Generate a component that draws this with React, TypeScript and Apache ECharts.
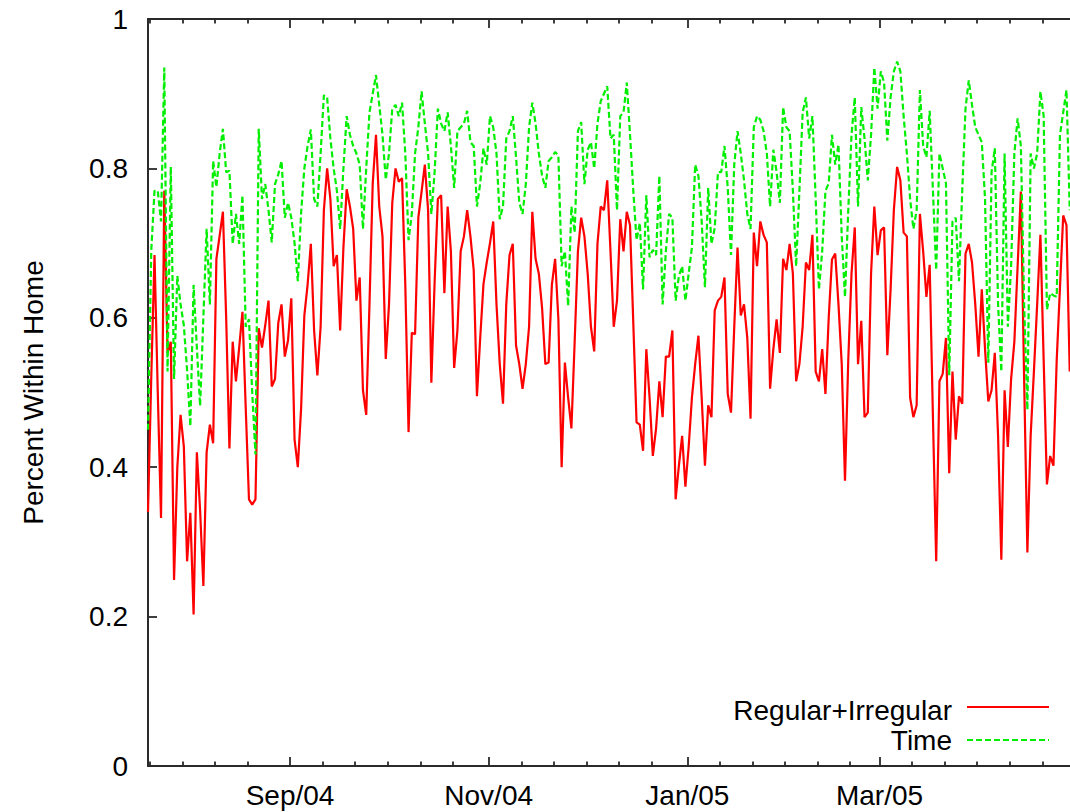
import React, { useEffect, useRef } from "react";
import * as echarts from "echarts";

// x values are days counted from 1 Sep 2004; one sample per day
const FIRST_SAMPLE_DAY = -43.6;
const X_MIN = -43.6;
const X_MAX = 242.4;

const MAJOR_TICK_DAYS = [0, 61, 122, 181];
const MAJOR_TICK_LABELS = ["Sep/04", "Nov/04", "Jan/05", "Mar/05"];
const MINOR_TICK_DAYS = [
  -43, -33, -23, -13, 10, 20, 30, 40, 50, 71, 81, 91, 101, 111, 132, 142, 152,
  162, 172, 191, 201, 211, 221, 231,
];

const Y_MIN = 0;
const Y_MAX = 1;
const Y_STEP = 0.2;

const SERIES_NAMES = ["Regular+Irregular", "Time"];

const REGULAR_IRREGULAR = [
  0.34, 0.52, 0.684, 0.5, 0.332, 0.77, 0.553, 0.568, 0.249, 0.4,
  0.47, 0.428, 0.274, 0.339, 0.203, 0.42, 0.342, 0.241, 0.42, 0.457,
  0.432, 0.679, 0.71, 0.742, 0.6, 0.425, 0.568, 0.515, 0.56, 0.608,
  0.48, 0.357, 0.35, 0.357, 0.586, 0.56, 0.59, 0.623, 0.508, 0.518,
  0.593, 0.618, 0.548, 0.57, 0.626, 0.437, 0.4, 0.478, 0.603, 0.644,
  0.699, 0.583, 0.523, 0.588, 0.744, 0.8, 0.759, 0.669, 0.684, 0.583,
  0.694, 0.772, 0.749, 0.719, 0.623, 0.654, 0.503, 0.47, 0.618, 0.78,
  0.845, 0.749, 0.709, 0.545, 0.618, 0.754, 0.8, 0.782, 0.787, 0.644,
  0.447, 0.58, 0.578, 0.734, 0.769, 0.805, 0.744, 0.513, 0.648, 0.759,
  0.764, 0.633, 0.749, 0.689, 0.533, 0.583, 0.689, 0.709, 0.744, 0.709,
  0.664, 0.495, 0.573, 0.645, 0.674, 0.7, 0.729, 0.618, 0.538, 0.485,
  0.618, 0.684, 0.699, 0.563, 0.538, 0.505, 0.538, 0.588, 0.742, 0.679,
  0.659, 0.613, 0.538, 0.54, 0.644, 0.679, 0.598, 0.4, 0.54, 0.493,
  0.452, 0.568, 0.689, 0.734, 0.709, 0.659, 0.588, 0.555, 0.699, 0.749,
  0.744, 0.784, 0.689, 0.588, 0.623, 0.732, 0.689, 0.742, 0.724, 0.593,
  0.46, 0.457, 0.422, 0.558, 0.493, 0.415, 0.452, 0.515, 0.467, 0.548,
  0.548, 0.583, 0.357, 0.402, 0.442, 0.374, 0.427, 0.493, 0.538, 0.576,
  0.493, 0.402, 0.483, 0.467, 0.61, 0.623, 0.628, 0.654, 0.498, 0.473,
  0.588, 0.694, 0.603, 0.618, 0.573, 0.465, 0.714, 0.669, 0.729, 0.711,
  0.701, 0.505, 0.558, 0.598, 0.553, 0.679, 0.664, 0.699, 0.659, 0.515,
  0.538, 0.588, 0.674, 0.664, 0.711, 0.528, 0.515, 0.558, 0.498, 0.6,
  0.678, 0.686, 0.618, 0.538, 0.382, 0.543, 0.659, 0.721, 0.538, 0.596,
  0.467, 0.473, 0.659, 0.749, 0.684, 0.717, 0.721, 0.55, 0.638, 0.744,
  0.802, 0.784, 0.714, 0.709, 0.493, 0.467, 0.483, 0.739, 0.689, 0.628,
  0.671, 0.467, 0.274, 0.515, 0.525, 0.573, 0.392, 0.528, 0.437, 0.495,
  0.485, 0.686, 0.699, 0.674, 0.618, 0.548, 0.638, 0.558, 0.488, 0.503,
  0.553, 0.442, 0.276, 0.503, 0.427, 0.518, 0.568, 0.669, 0.769, 0.518,
  0.286, 0.442, 0.528, 0.618, 0.711, 0.543, 0.377, 0.415, 0.402, 0.543,
  0.64, 0.737, 0.724, 0.528,
];

const TIME = [
  0.45, 0.69, 0.77, 0.77, 0.729, 0.935, 0.528, 0.802, 0.518, 0.656,
  0.618, 0.59, 0.53, 0.455, 0.644, 0.56, 0.482, 0.6, 0.719, 0.618,
  0.81, 0.775, 0.82, 0.853, 0.795, 0.797, 0.699, 0.739, 0.699, 0.764,
  0.588, 0.598, 0.5, 0.417, 0.853, 0.759, 0.779, 0.744, 0.701, 0.779,
  0.792, 0.81, 0.734, 0.754, 0.734, 0.7, 0.649, 0.74, 0.8, 0.83,
  0.852, 0.759, 0.749, 0.82, 0.898, 0.895, 0.84, 0.8, 0.77, 0.719,
  0.8, 0.87, 0.845, 0.83, 0.82, 0.805, 0.719, 0.8, 0.875, 0.9,
  0.925, 0.885, 0.845, 0.785, 0.82, 0.88, 0.885, 0.87, 0.888, 0.82,
  0.704, 0.739, 0.82, 0.855, 0.903, 0.86, 0.82, 0.739, 0.795, 0.88,
  0.86, 0.85, 0.875, 0.83, 0.774, 0.85, 0.855, 0.86, 0.877, 0.835,
  0.83, 0.749, 0.78, 0.827, 0.805, 0.87, 0.855, 0.82, 0.732, 0.749,
  0.84, 0.85, 0.87, 0.815, 0.754, 0.739, 0.779, 0.855, 0.888, 0.86,
  0.82, 0.79, 0.774, 0.81, 0.815, 0.822, 0.817, 0.669, 0.689, 0.616,
  0.749, 0.714, 0.85, 0.862, 0.779, 0.825, 0.835, 0.8, 0.86, 0.89,
  0.9, 0.91, 0.84, 0.845, 0.744, 0.87, 0.875, 0.915, 0.845, 0.77,
  0.704, 0.727, 0.638, 0.764, 0.681, 0.691, 0.684, 0.79, 0.618, 0.689,
  0.739, 0.734, 0.623, 0.656, 0.669, 0.623, 0.659, 0.694, 0.805, 0.79,
  0.729, 0.641, 0.774, 0.699, 0.72, 0.795, 0.795, 0.83, 0.774, 0.684,
  0.805, 0.85, 0.82, 0.784, 0.739, 0.719, 0.855, 0.87, 0.865, 0.85,
  0.82, 0.749, 0.825, 0.795, 0.754, 0.882, 0.855, 0.85, 0.77, 0.669,
  0.77, 0.875, 0.895, 0.84, 0.87, 0.759, 0.638, 0.689, 0.77, 0.78,
  0.845, 0.805, 0.832, 0.709, 0.628, 0.744, 0.845, 0.895, 0.749, 0.882,
  0.84, 0.784, 0.845, 0.935, 0.88, 0.93, 0.915, 0.837, 0.895, 0.93,
  0.943, 0.93, 0.87, 0.82, 0.759, 0.719, 0.744, 0.905, 0.83, 0.815,
  0.877, 0.77, 0.664, 0.82, 0.8, 0.78, 0.523, 0.729, 0.734, 0.649,
  0.77, 0.88, 0.918, 0.885, 0.855, 0.845, 0.835, 0.759, 0.54, 0.795,
  0.827, 0.618, 0.528, 0.82, 0.588, 0.669, 0.82, 0.867, 0.83, 0.618,
  0.477, 0.82, 0.8, 0.82, 0.903, 0.87, 0.611, 0.633, 0.63, 0.628,
  0.845, 0.875, 0.905, 0.744,
];

const FONT = '"Liberation Sans", Arial, Helvetica, sans-serif';
const AXIS_COLOR = "#2a2a2a";
const RED = "#ff0000";
const GREEN = "#00ee00";

function toPairs(values: number[]) {
  return values.map((v, i) => [FIRST_SAMPLE_DAY + i, v]);
}

function xAxisLayer(
  position: "top" | "bottom",
  ticks: number[],
  tickLength: number,
  showLine: boolean,
  showLabels: boolean
) {
  return {
    type: "value",
    position,
    min: X_MIN,
    max: X_MAX,
    splitLine: { show: false },
    axisLine: {
      show: showLine,
      onZero: false,
      lineStyle: { color: AXIS_COLOR, width: 2 },
    },
    axisTick: {
      show: true,
      inside: true,
      length: tickLength,
      customValues: ticks,
      lineStyle: { color: AXIS_COLOR, width: 1.8 },
    },
    axisLabel: {
      show: showLabels,
      customValues: ticks,
      margin: 15,
      fontSize: 28,
      fontFamily: FONT,
      color: "#000",
      formatter: (v: number) => {
        const idx = MAJOR_TICK_DAYS.indexOf(Math.round(v));
        return idx >= 0 ? MAJOR_TICK_LABELS[idx] : "";
      },
    },
  };
}

export default function App() {
  const ref = useRef<HTMLDivElement>(null);

  useEffect(() => {
    if (!ref.current) return;
    const chart = echarts.init(ref.current, null, { renderer: "svg" });
    chart.setOption({
      animation: false,
      backgroundColor: "#ffffff",
      grid: {
        left: 148,
        top: 19,
        width: 931.5,
        height: 747,
        containLabel: false,
        outerBoundsMode: "none",
      },
      xAxis: [
        xAxisLayer("bottom", MAJOR_TICK_DAYS, 9, true, true),
        xAxisLayer("bottom", MINOR_TICK_DAYS, 4.5, false, false),
        xAxisLayer("top", MAJOR_TICK_DAYS, 9, true, false),
        xAxisLayer("top", MINOR_TICK_DAYS, 4.5, false, false),
      ],
      yAxis: {
        type: "value",
        min: Y_MIN,
        max: Y_MAX,
        interval: Y_STEP,
        name: "Percent Within Home",
        nameLocation: "middle",
        nameRotate: 90,
        nameGap: 101,
        nameTextStyle: { fontSize: 28, fontFamily: FONT, color: "#000" },
        splitLine: { show: false },
        axisLine: {
          show: true,
          onZero: false,
          lineStyle: { color: AXIS_COLOR, width: 2 },
        },
        axisTick: {
          show: true,
          inside: true,
          length: 9,
          lineStyle: { color: AXIS_COLOR, width: 1.8 },
        },
        axisLabel: {
          margin: 20,
          fontSize: 28,
          fontFamily: FONT,
          color: "#000",
        },
      },
      series: [
        {
          name: SERIES_NAMES[0],
          type: "line",
          data: toPairs(REGULAR_IRREGULAR),
          symbol: "none",
          showSymbol: false,
          clip: true,
          lineStyle: { color: RED, width: 2.2 },
          itemStyle: { color: RED },
          z: 2,
        },
        {
          name: SERIES_NAMES[1],
          type: "line",
          data: toPairs(TIME),
          symbol: "none",
          showSymbol: false,
          clip: true,
          lineStyle: { color: GREEN, width: 2.2, type: [6, 3] },
          itemStyle: { color: GREEN },
          z: 3,
        },
      ],
      graphic: [
        {
          type: "text",
          x: 952,
          y: 710,
          style: {
            text: SERIES_NAMES[0],
            fontSize: 28,
            fontFamily: FONT,
            fill: "#000",
            align: "right",
            verticalAlign: "middle",
          },
        },
        {
          type: "line",
          shape: { x1: 967, y1: 707, x2: 1049, y2: 707 },
          style: { stroke: RED, lineWidth: 2.2 },
        },
        {
          type: "text",
          x: 952,
          y: 740,
          style: {
            text: SERIES_NAMES[1],
            fontSize: 28,
            fontFamily: FONT,
            fill: "#000",
            align: "right",
            verticalAlign: "middle",
          },
        },
        {
          type: "line",
          shape: { x1: 967, y1: 740, x2: 1049, y2: 740 },
          style: { stroke: GREEN, lineWidth: 2.2, lineDash: [6, 3] },
        },
      ],
    });
    return () => chart.dispose();
  }, []);

  return (
    <div
      ref={ref}
      style={{ position: "fixed", left: 0, top: 0, width: 1070, height: 812 }}
    />
  );
}
